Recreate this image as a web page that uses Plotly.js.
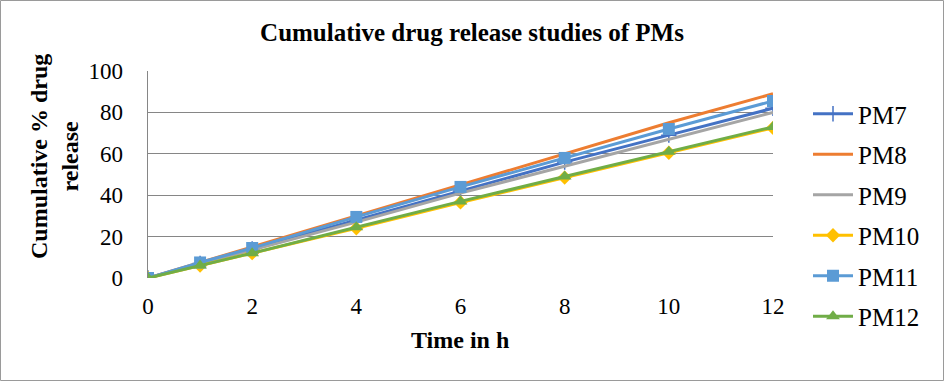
<!DOCTYPE html>
<html>
<head>
<meta charset="utf-8">
<script src="https://cdn.plot.ly/plotly-3.0.1.min.js"></script>
<style>html,body{margin:0;padding:0;background:#fff;}#chart{width:944px;height:381px;}</style>
</head>
<body>
<div id="chart"></div>
<script>
const timeH = [0, 1, 2, 4, 6, 8, 10, 12];
const seriesNames = ["PM7", "PM8", "PM9", "PM10", "PM11", "PM12"];
const pm7  = [0, 7.0, 14.0, 28.0, 42.0, 56.0, 69.0, 82.0];
const pm8  = [0, 7.5, 15.0, 30.0, 45.0, 60.0, 75.0, 89.0];
const pm9  = [0, 7.0, 13.5, 27.0, 41.0, 54.0, 67.0, 80.0];
const pm10 = [0, 6.0, 12.0, 24.0, 36.5, 48.5, 60.5, 72.5];
const pm11 = [0, 7.5, 14.5, 29.5, 44.0, 58.0, 72.0, 85.5];
const pm12 = [0, 6.0, 12.0, 24.5, 37.0, 49.0, 61.0, 73.0];
const xTicks = [0, 2, 4, 6, 8, 10, 12];
const yTicks = [0, 20, 40, 60, 80, 100];

const values = [pm7, pm8, pm9, pm10, pm11, pm12];
const colors = ["#4472C4", "#ED7D31", "#A5A5A5", "#FFC000", "#5B9BD5", "#70AD47"];
const symbols = ["cross-thin-open", null, null, "diamond", "square", "triangle-up"];
const sizes = [11, 0, 0, 11, 12, 12];

const serif = "Liberation Serif";
const traces = seriesNames.map((name, i) => {
  const t = {
    x: timeH, y: values[i], name: name, type: "scatter",
    legendgroup: "g" + i,
    line: {color: colors[i], width: 3},
    mode: symbols[i] ? "lines+markers" : "lines"
  };
  if (symbols[i]) {
    t.marker = {symbol: symbols[i], size: sizes[i], color: colors[i],
      line: {color: colors[i], width: symbols[i] === "cross-thin-open" ? 1.5 : 0}};
  }
  return t;
});

const layout = {
  width: 944, height: 381,
  margin: {l: 148, r: 171, t: 71, b: 103},
  paper_bgcolor: "#fff", plot_bgcolor: "#fff",
  font: {family: serif, color: "#000", size: 20},
  title: {text: "<b>Cumulative drug release studies of PMs</b>",
    font: {family: serif, size: 25, color: "#000"},
    x: 472/944, xanchor: "center", xref: "container",
    y: 1 - 32/381, yanchor: "middle", yref: "container"},
  xaxis: {range: [0, 12], tickvals: xTicks, ticktext: xTicks.map(String),
    showgrid: false, zeroline: false, showline: false,
    ticks: "", ticklabelstandoff: 12,
    tickfont: {family: serif, size: 23, color: "#000"}},
  yaxis: {range: [0, 100], tickvals: yTicks, ticktext: yTicks.map(String),
    showgrid: true, gridcolor: "#868686", gridwidth: 1.3,
    zeroline: false, showline: true, linecolor: "#868686", linewidth: 1.3,
    ticks: "", ticklabelstandoff: 19,
    tickfont: {family: serif, size: 23, color: "#000"}},
  showlegend: true,
  legend: {x: 1 + 35/625, xref: "paper", xanchor: "left",
    y: (278 - 215)/207, yanchor: "middle", yref: "paper",
    font: {family: serif, size: 25, color: "#000"},
    traceorder: "grouped", tracegroupgap: 5, itemwidth: 40,
    maxheight: 381,
    bgcolor: "rgba(0,0,0,0)", borderwidth: 0},
  annotations: [
    {text: "<b>Time in h</b>", xref: "paper", yref: "paper",
      x: (460 - 148)/625, y: (278 - 340)/207, xanchor: "center", yanchor: "middle",
      showarrow: false, font: {family: serif, size: 24, color: "#000"}},
    {text: "<b>Cumulative % drug<br>release</b>", xref: "paper", yref: "paper",
      x: (54 - 148)/625, y: (278 - 157)/207, xanchor: "center", yanchor: "middle",
      textangle: -90, showarrow: false,
      font: {family: serif, size: 24, color: "#000"}}
  ],
  shapes: [
    {type: "rect", xref: "paper", yref: "paper",
      x0: (0.5 - 148)/625, x1: (943.5 - 148)/625,
      y0: (278 - 380.5)/207, y1: (278 - 0.5)/207,
      line: {color: "#9a9a9a", width: 1}, layer: "below"}
  ]
};

Plotly.newPlot("chart", traces, layout, {displayModeBar: false, staticPlot: true});
</script>
</body>
</html>
